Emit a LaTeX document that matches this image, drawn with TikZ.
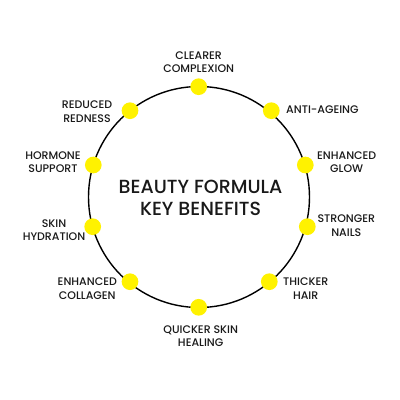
\documentclass[tikz,border=0pt]{standalone}
\usepackage{fontspec}
\setmainfont{Poppins}[BoldFont={Poppins Medium}]
\definecolor{dotyellow}{HTML}{FFF200}
\begin{document}
\begin{tikzpicture}[x=1pt,y=-1pt,
  dotnode/.style={circle,fill=dotyellow,minimum size=16.7pt,inner sep=0pt},
  lbl/.style={align=center,font=\bfseries\fontsize{11}{13.5}\selectfont,inner sep=0pt,text=black!90},
  ttl/.style={align=center,font=\bfseries\fontsize{19}{22.5}\selectfont,inner sep=0pt,text=black!90}]
\useasboundingbox (0,0) rectangle (400,400);
\fill[white] (0,0) rectangle (400,400);
\node[circle,draw=black,line width=1.4pt,minimum size=221pt,inner sep=0pt] (ring) at (199,197) {};
\node[dotnode] (d1) at (198.7,86.7) {};
\node[dotnode] (d2) at (271.3,110.7) {};
\node[dotnode] (d3) at (305.3,165) {};
\node[dotnode] (d4) at (307.3,226.7) {};
\node[dotnode] (d5) at (269.3,281.7) {};
\node[dotnode] (d6) at (198.7,307.3) {};
\node[dotnode] (d7) at (130,281.7) {};
\node[dotnode] (d8) at (92.7,226.7) {};
\node[dotnode] (d9) at (93.3,165) {};
\node[dotnode] (d10) at (130,110.7) {};
\node[ttl] (title) at (200.5,198) {BEAUTY FORMULA\\KEY BENEFITS};
\node[lbl] (l1) at (198.7,62.2) {CLEARER\\COMPLEXION};
\node[lbl,anchor=west] (l2) at (286,110) {ANTI-AGEING};
\node[lbl] (l3) at (346.7,162) {ENHANCED\\GLOW};
\node[lbl] (l4) at (346.3,225.7) {STRONGER\\NAILS};
\node[lbl] (l5) at (305.7,288.5) {THICKER\\HAIR};
\node[lbl] (l6) at (200.7,336) {QUICKER SKIN\\HEALING};
\node[lbl] (l7) at (87.3,288.5) {ENHANCED\\COLLAGEN};
\node[lbl] (l8) at (54,230) {SKIN\\HYDRATION};
\node[lbl] (l9) at (53,162) {HORMONE\\SUPPORT};
\node[lbl] (l10) at (87,111.8) {REDUCED\\REDNESS};
\end{tikzpicture}
\end{document}
